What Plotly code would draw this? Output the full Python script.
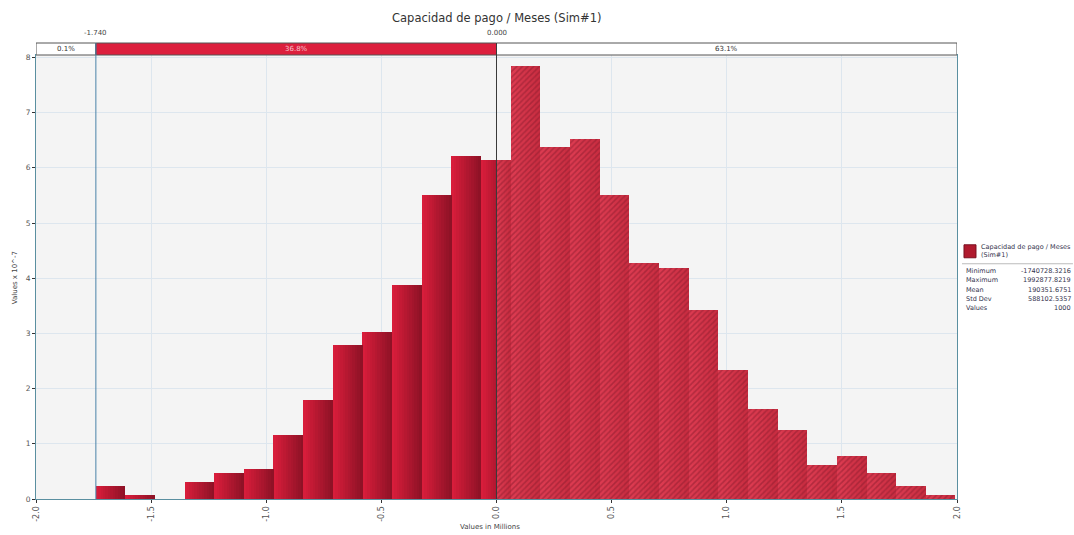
import numpy as np
import plotly.graph_objects as go

# Simulation summary (values in currency units)
sim_name = "Capacidad de pago / Meses (Sim#1)"
series_label = ["Capacidad de pago / Meses", "(Sim#1)"]
stat_names = ["Minimum", "Maximum", "Mean", "Std Dev", "Values"]
stat_values = ["-1740728.3216", "1992877.8219", "190351.6751", "588102.5357", "1000"]
sim_min = -1740728.3216
sim_max = 1992877.8219
n_values = 1000

# Histogram counts per bin (29 equal bins between min and max)
bin_counts = [3, 1, 0, 4, 6, 7, 15, 23, 36, 39, 50, 71, 80, 79,
              101, 82, 84, 71, 55, 54, 44, 30, 21, 16, 8, 10, 6, 3, 1]

# Delimiters and the probability shares of the three regions
left_mark = -1.740
right_mark = 0.000
region_pcts = ["0.1%", "36.8%", "63.1%"]

x_ticks = [-2.0, -1.5, -1.0, -0.5, 0.0, 0.5, 1.0, 1.5, 2.0]
y_ticks = [0, 1, 2, 3, 4, 5, 6, 7, 8]

# ---- derived bin geometry (x in millions, density in 1e-7 per unit) ----
n_bins = len(bin_counts)
lo, hi = sim_min / 1e6, sim_max / 1e6
edges = np.linspace(lo, hi, n_bins + 1)
width_units = (sim_max - sim_min) / n_bins
density = [c / (n_values * width_units) * 1e7 for c in bin_counts]

W, H = 1074, 535
ML, MR, MT, MB = 35.5, 117, 55, 35.5
plot_w = W - ML - MR
plot_h = H - MT - MB
Y_TOP = 8.045


def px_x(px):
    return (px - ML) / plot_w


def px_y(py):
    return (H - MB - py) / plot_h


def data_y(py):
    return (H - MB - py) * Y_TOP / plot_h


def rgb(c):
    return "rgb(%d,%d,%d)" % tuple(np.asarray(c).astype(int))


fig = go.Figure()

# Solid bars left of the right delimiter: each bar is cut into vertical
# strips, strip k of every bar shares one colour (bright -> dark).
solid_c0 = np.array([220, 30, 60])
solid_c1 = np.array([140, 18, 38])
n_solid = 12
for k in range(n_solid):
    xs, ws, ys = [], [], []
    for i in range(n_bins):
        a, b = edges[i], edges[i + 1]
        if density[i] <= 0 or a >= right_mark:
            continue
        step = (b - a) / n_solid
        s0, s1 = a + k * step, a + (k + 1) * step
        s1 = min(s1, right_mark)
        if s1 <= s0:
            continue
        xs.append((s0 + s1) / 2)
        ws.append((s1 - s0) * 1.1)
        ys.append(density[i])
    t = (k + 0.5) / n_solid
    fig.add_trace(go.Bar(
        x=xs, y=ys, width=ws,
        marker=dict(color=rgb(solid_c0 + (solid_c1 - solid_c0) * t), line=dict(width=0)),
        hoverinfo="skip", showlegend=False,
    ))

# Hatched bars right of the right delimiter, with a mild gradient
hatch_c0 = np.array([222, 60, 82])
hatch_c1 = np.array([200, 44, 64])
n_hatch = 6
for k in range(n_hatch):
    xs, ws, ys = [], [], []
    for i in range(n_bins):
        a, b = edges[i], edges[i + 1]
        if density[i] <= 0 or b <= right_mark:
            continue
        a_clip = max(a, right_mark)
        step = (b - a_clip) / n_hatch
        s0, s1 = a_clip + k * step, a_clip + (k + 1) * step
        xs.append((s0 + s1) / 2)
        ws.append((s1 - s0) * 1.05)
        ys.append(density[i])
    t = (k + 0.5) / n_hatch
    base = rgb(hatch_c0 + (hatch_c1 - hatch_c0) * t)
    fig.add_trace(go.Bar(
        x=xs, y=ys, width=ws,
        marker=dict(
            color=base, line=dict(width=0),
            pattern=dict(shape="/", fgcolor="#8a1c2e", bgcolor=base,
                         size=4, solidity=0.38),
        ),
        hoverinfo="skip", showlegend=False,
    ))

# Delimiter markers above the region strip
fig.add_trace(go.Scatter(
    x=[left_mark, right_mark], y=[data_y(40), data_y(40)],
    mode="markers",
    marker=dict(symbol="triangle-down", size=8, color="#2b2b2b"),
    cliponaxis=False, hoverinfo="skip", showlegend=False,
))

shapes = []
# Region strip
strip_y0, strip_y1 = px_y(55), px_y(43)
shapes.append(dict(type="rect", xref="x", yref="paper", x0=-2, x1=left_mark,
                   y0=strip_y0, y1=strip_y1, fillcolor="white",
                   line=dict(color="#555555", width=1)))
shapes.append(dict(type="rect", xref="x", yref="paper", x0=left_mark, x1=right_mark,
                   y0=strip_y0, y1=strip_y1, fillcolor="#dc1f3d",
                   line=dict(color="#555555", width=1)))
shapes.append(dict(type="rect", xref="x", yref="paper", x0=right_mark, x1=2,
                   y0=strip_y0, y1=strip_y1, fillcolor="white",
                   line=dict(color="#555555", width=1)))
# Delimiter lines
shapes.append(dict(type="line", xref="x", yref="paper", x0=left_mark, x1=left_mark,
                   y0=0, y1=strip_y1, line=dict(color="#4a82a8", width=1)))
shapes.append(dict(type="line", xref="x", yref="paper", x0=right_mark, x1=right_mark,
                   y0=0, y1=strip_y1, line=dict(color="#3a3a3a", width=1)))

# Legend swatch and separator
shapes.append(dict(type="rect", xref="paper", yref="paper",
                   x0=px_x(964), x1=px_x(976), y0=px_y(258), y1=px_y(245),
                   fillcolor="#b01a2e", line=dict(color="#7a1020", width=1)))
shapes.append(dict(type="line", xref="paper", yref="paper",
                   x0=px_x(962), x1=px_x(1073), y0=px_y(264), y1=px_y(264),
                   line=dict(color="#bbbbbb", width=1)))

font_main = "DejaVu Sans"
annots = []
annots.append(dict(text=sim_name, xref="paper", yref="paper", x=0.5, y=px_y(18),
                   showarrow=False, xanchor="center", yanchor="middle",
                   font=dict(family=font_main, size=11.5, color="#333333")))

pct_x = [(-2 + left_mark) / 2, (left_mark + right_mark) / 2, (right_mark + 2) / 2]
pct_col = ["#333333", "#f7c4cc", "#333333"]
for xv, txt, col in zip(pct_x, region_pcts, pct_col):
    annots.append(dict(text=txt, xref="x", yref="paper", x=xv, y=px_y(49),
                       showarrow=False, xanchor="center", yanchor="middle",
                       font=dict(family=font_main, size=7, color=col)))

for xv in [left_mark, right_mark]:
    annots.append(dict(text="%.3f" % xv, xref="x", yref="paper", x=xv, y=px_y(33),
                       showarrow=False, xanchor="center", yanchor="middle",
                       font=dict(family=font_main, size=7, color="#444444")))

legend_col = "#33334d"
annots.append(dict(text=series_label[0], xref="paper", yref="paper",
                   x=px_x(979), y=px_y(247), showarrow=False,
                   xanchor="left", yanchor="middle",
                   font=dict(family=font_main, size=6.5, color=legend_col)))
annots.append(dict(text=series_label[1], xref="paper", yref="paper",
                   x=px_x(979), y=px_y(255), showarrow=False,
                   xanchor="left", yanchor="middle",
                   font=dict(family=font_main, size=6.5, color=legend_col)))

row_y = [271, 280.5, 290, 299, 308]
for name, val, ry in zip(stat_names, stat_values, row_y):
    annots.append(dict(text=name, xref="paper", yref="paper", x=px_x(964), y=px_y(ry),
                       showarrow=False, xanchor="left", yanchor="middle",
                       font=dict(family=font_main, size=6.5, color=legend_col)))
    annots.append(dict(text=val, xref="paper", yref="paper", x=px_x(1073), y=px_y(ry),
                       showarrow=False, xanchor="right", yanchor="middle",
                       font=dict(family=font_main, size=6.5, color=legend_col)))

annots.append(dict(text="Values in Millions", xref="paper", yref="paper",
                   x=px_x(490), y=px_y(528), showarrow=False,
                   xanchor="center", yanchor="middle",
                   font=dict(family=font_main, size=7, color="#444444")))
annots.append(dict(text="Values x 10^-7", xref="paper", yref="paper",
                   x=px_x(14), y=px_y(278), showarrow=False, textangle=-90,
                   xanchor="center", yanchor="middle",
                   font=dict(family=font_main, size=7, color="#444444")))

frame_col = "#5a8fa0"
grid_col = "#dde6ee"

fig.update_layout(
    width=W, height=H,
    margin=dict(l=ML, r=MR, t=MT, b=MB, pad=0),
    paper_bgcolor="white",
    plot_bgcolor="#f4f4f4",
    barmode="overlay",
    bargap=0,
    shapes=shapes,
    annotations=annots,
    showlegend=False,
    xaxis=dict(
        range=[-2, 2], tickvals=x_ticks,
        ticktext=["%.1f" % v for v in x_ticks],
        tickangle=-90, ticks="outside", ticklen=3, tickcolor="#333333",
        tickfont=dict(family=font_main, size=8, color="#555555"),
        showgrid=True, gridcolor=grid_col, gridwidth=1,
        zeroline=False, showline=True, linecolor=frame_col, linewidth=1, mirror=True,
    ),
    yaxis=dict(
        range=[0, Y_TOP], tickvals=y_ticks,
        ticks="outside", ticklen=3, tickcolor="#333333",
        tickfont=dict(family=font_main, size=7.5, color="#555555"),
        showgrid=True, gridcolor=grid_col, gridwidth=1,
        zeroline=False, showline=True, linecolor=frame_col, linewidth=1, mirror=True,
    ),
)

fig.write_html("out.html")
